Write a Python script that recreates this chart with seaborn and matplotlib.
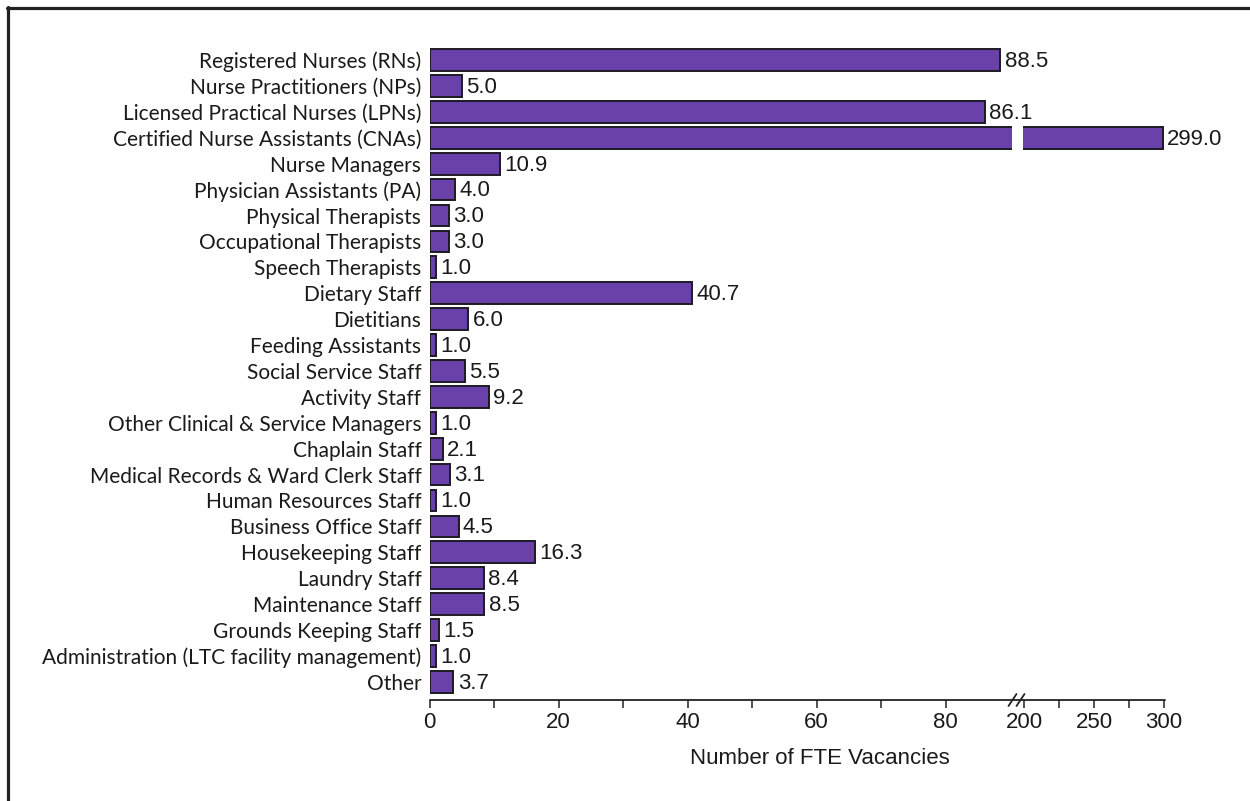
import matplotlib
matplotlib.use("Agg")
import matplotlib.pyplot as plt
import seaborn as sns
import pandas as pd
from matplotlib.lines import Line2D

categories = [
    "Registered Nurses (RNs)",
    "Nurse Practitioners (NPs)",
    "Licensed Practical Nurses (LPNs)",
    "Certified Nurse Assistants (CNAs)",
    "Nurse Managers",
    "Physician Assistants (PA)",
    "Physical Therapists",
    "Occupational Therapists",
    "Speech Therapists",
    "Dietary Staff",
    "Dietitians",
    "Feeding Assistants",
    "Social Service Staff",
    "Activity Staff",
    "Other Clinical & Service Managers",
    "Chaplain Staff",
    "Medical Records & Ward Clerk Staff",
    "Human Resources Staff",
    "Business Office Staff",
    "Housekeeping Staff",
    "Laundry Staff",
    "Maintenance Staff",
    "Grounds Keeping Staff",
    "Administration (LTC facility management)",
    "Other",
]
vacancies = [88.5, 5.0, 86.1, 299.0, 10.9, 4.0, 3.0, 3.0, 1.0, 40.7, 6.0, 1.0,
             5.5, 9.2, 1.0, 2.1, 3.1, 1.0, 4.5, 16.3, 8.4, 8.5, 1.5, 1.0, 3.7]

left_ticks = [0, 20, 40, 60, 80]
left_minor = [10, 30, 50, 70]
right_ticks = [200, 250, 300]
right_minor = [225, 275]
xlabel = "Number of FTE Vacancies"

PURPLE = "#6a40ab"
EDGE = "#1c1a24"
DARK = "#222222"

sns.set_theme(style="white")
plt.rcParams['font.family'] = ['Liberation Sans', 'DejaVu Sans']

df = pd.DataFrame({"category": categories, "value": vacancies})

W, H = 1250, 801
fig = plt.figure(figsize=(W / 100, H / 100), dpi=100)


def rect(x0, x1, ytop, ybot):
    return [x0 / W, 1 - ybot / H, (x1 - x0) / W, (ybot - ytop) / H]


AX_TOP, AX_BOT = 44.5, 700
ax2 = fig.add_axes(rect(1023, 1164, AX_TOP, AX_BOT))
ax1 = fig.add_axes(rect(429.6, 1012, AX_TOP, AX_BOT))
ax1.set_zorder(3)
ax2.set_zorder(2)
for ax in (ax1, ax2):
    ax.patch.set_alpha(0)

LEFT_MAX = 90.3
RIGHT_MIN = 199.3

for ax in (ax1, ax2):
    sns.barplot(data=df, x="value", y="category", orient="h", color=PURPLE,
                saturation=1, edgecolor=EDGE, linewidth=1.4, width=0.84, ax=ax)
    ax.set_ylim(len(categories) - 1 + 0.7, -0.6)
    ax.set_xlabel("")
    ax.set_ylabel("")
    for s in ("top", "right", "left", "bottom"):
        ax.spines[s].set_visible(False)
    ax.tick_params(axis="x", which="both", bottom=True, direction="out",
                   length=6, width=1.1, color=DARK, labelsize=16, pad=3,
                   labelcolor="#1a1a1a")

ax1.set_xlim(0, LEFT_MAX)
ax2.set_xlim(RIGHT_MIN, 300)
ax1.set_xticks(left_ticks)
ax1.set_xticks(left_minor, minor=True)
ax2.set_xticks(right_ticks)
ax2.set_xticks(right_minor, minor=True)

ax1.tick_params(axis="y", length=0, pad=6)
for lab in ax1.get_yticklabels():
    lab.set_fontfamily(["Lato", "DejaVu Sans"])
    lab.set_fontsize(15)
    lab.set_color("#1a1a1a")
ax2.tick_params(axis="y", left=False, labelleft=False)

# value labels
for i, v in enumerate(vacancies):
    ax = ax1 if v <= LEFT_MAX else ax2
    ax.annotate(f"{v:.1f}", xy=(v, i), xytext=(3, -1), textcoords="offset points",
                ha="left", va="center", fontsize=16, color="#1a1a1a",
                annotation_clip=False, clip_on=False)

# continuous x axis line across both panels
fig.add_artist(Line2D([429.6 / W, 1164.5 / W], [1 - AX_BOT / H, 1 - AX_BOT / H],
                      transform=fig.transFigure, color=DARK, lw=1.3, zorder=5))

# axis break marks "//"
for xc in (1012.5, 1020.5):
    fig.add_artist(Line2D([(xc - 4) / W, (xc + 4) / W],
                          [1 - (AX_BOT + 6) / H, 1 - (AX_BOT - 6) / H],
                          transform=fig.transFigure, color=DARK, lw=1.3, zorder=6))
    fig.add_artist(Line2D([(xc - 1.5) / W, (xc + 1.5) / W],
                          [1 - (AX_BOT + 1) / H, 1 - (AX_BOT + 1) / H],
                          transform=fig.transFigure, color="white", lw=0, zorder=6))

fig.text(820 / W, 1 - 758 / H, xlabel, ha="center", va="center",
         fontsize=16, color="#1a1a1a")

# outer frame (top and left edges visible)
fig.add_artist(Line2D([7 / W, 1], [1 - 8 / H, 1 - 8 / H], transform=fig.transFigure,
                      color=DARK, lw=2.3))
fig.add_artist(Line2D([8 / W, 8 / W], [0, 1 - 7 / H], transform=fig.transFigure,
                      color=DARK, lw=2.3))

fig.savefig("out.png", dpi=100)
